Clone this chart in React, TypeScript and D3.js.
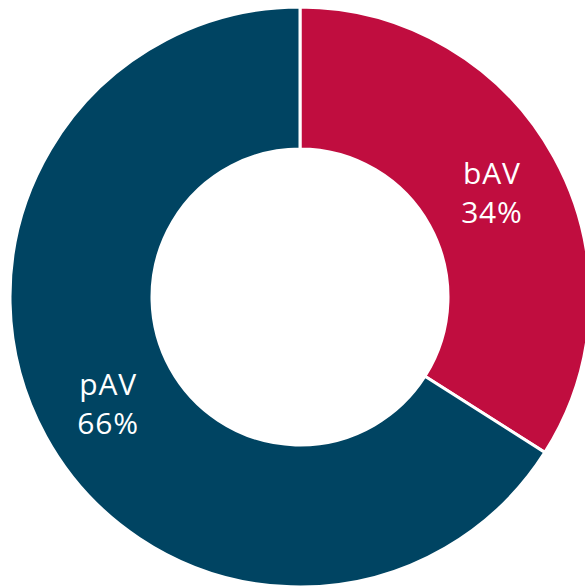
import React from "react";
import * as d3 from "d3";

const categories = ["bAV", "pAV"];
const values = [34, 66];
const colors = ["#C00D3F", "#004462"];

export default function App() {
  const width = 585;
  const height = 586;
  const cx = 300;
  const cy = 297;
  const outerR = 290;
  const innerR = 148;
  const pie = d3.pie<number>().sort(null).value((d) => d)(values);
  const arc = d3.arc<d3.PieArcDatum<number>>().innerRadius(innerR).outerRadius(outerR);
  const total = d3.sum(values);
  return (
    <svg width={width} height={height} style={{ position: "absolute", left: 0, top: 0 }}>
      <g transform={`translate(${cx},${cy})`}>
        {pie.map((p, i) => (
          <path key={i} d={arc(p) || ""} fill={colors[i]} stroke="#fff" strokeWidth={3} />
        ))}
        {pie.map((p, i) => {
          const [x, y] = arc.centroid(p);
          return (
            <text
              key={"t" + i}
              x={x}
              y={y}
              fill="#fff"
              fontFamily="'Open Sans', sans-serif"
              fontSize={30}
              letterSpacing={0.8}
              textAnchor="middle"
            >
              <tspan x={x} dy={-7.5}>{categories[i]}</tspan>
              <tspan x={x} dy={39}>{Math.round((values[i] / total) * 100)}%</tspan>
            </text>
          );
        })}
      </g>
    </svg>
  );
}
